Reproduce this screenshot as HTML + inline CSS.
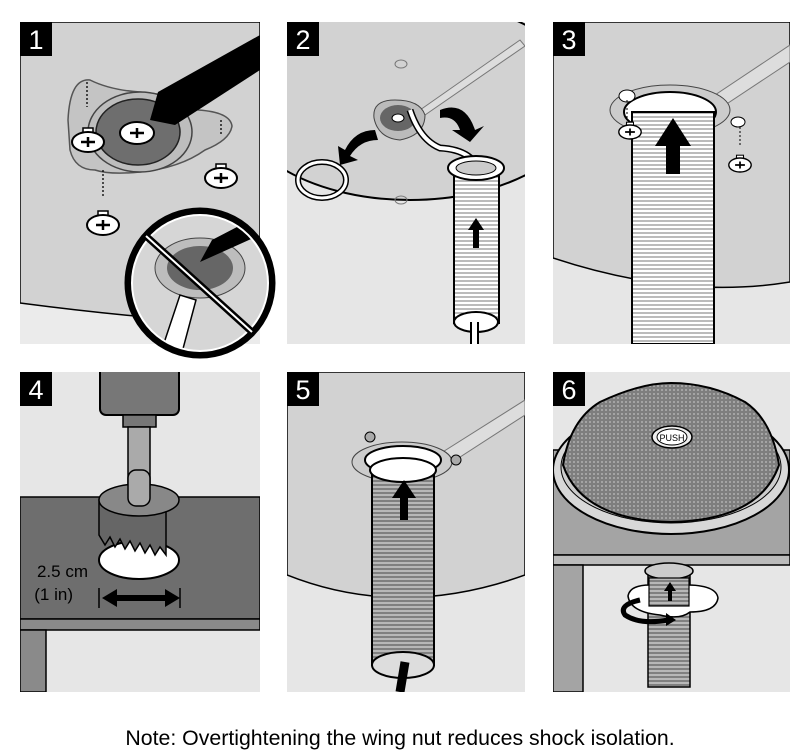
<!DOCTYPE html>
<html><head><meta charset="utf-8"><style>
html,body{margin:0;padding:0;background:#fff;width:800px;height:754px;overflow:hidden}
svg{display:block}
</style></head><body>
<svg width="800" height="754" viewBox="0 0 800 754" xmlns="http://www.w3.org/2000/svg">
<defs>
<pattern id="ribW" width="6" height="4" patternUnits="userSpaceOnUse"><rect width="6" height="4" fill="#fff"/><line x1="0" y1="1" x2="6" y2="1" stroke="#777" stroke-width="1"/></pattern>
<pattern id="ribG" width="6" height="4" patternUnits="userSpaceOnUse"><rect width="6" height="4" fill="#b8b8b8"/><line x1="0" y1="1" x2="6" y2="1" stroke="#5a5a5a" stroke-width="1.2"/></pattern>
<pattern id="mesh" width="4" height="4" patternUnits="userSpaceOnUse"><rect width="4" height="4" fill="#7e7e7e"/><circle cx="2" cy="2" r="0.9" fill="#c0c0c0"/></pattern>
<clipPath id="c1"><rect x="20" y="22" width="240" height="322"/></clipPath>
<clipPath id="c2"><rect x="287" y="22" width="238" height="322"/></clipPath>
<clipPath id="c3"><rect x="553" y="22" width="237" height="322"/></clipPath>
<clipPath id="c4"><rect x="20" y="372" width="240" height="320"/></clipPath>
<clipPath id="c5"><rect x="287" y="372" width="238" height="320"/></clipPath>
<clipPath id="c6"><rect x="553" y="372" width="237" height="320"/></clipPath>
<clipPath id="pc"><circle cx="200" cy="283" r="72"/></clipPath>
<g id="screw"><rect x="-5" y="-14" width="10" height="10" fill="#fff" stroke="#000" stroke-width="1.5"/><ellipse cx="0" cy="0" rx="16" ry="10" fill="#fff" stroke="#000" stroke-width="2"/><path d="M-7 0h14M0-5v10" stroke="#000" stroke-width="2.5"/></g>
</defs>

<!-- Panel 1 -->
<g clip-path="url(#c1)">
<rect x="20" y="22" width="240" height="322" fill="#ebebeb"/>
<path d="M20 22H260V325Q150 320 20 303Z" fill="#d2d2d2" stroke="#000" stroke-width="1.5"/>
<path d="M68 120Q70 78 90 80Q110 90 140 92Q180 95 198 110Q230 112 232 126Q230 140 205 150Q180 168 140 172Q110 175 95 170Q75 170 70 150Z" fill="#c4c4c4" stroke="#555" stroke-width="1.5"/>
<ellipse cx="140" cy="132" rx="52" ry="40" fill="#bdbdbd" stroke="#444" stroke-width="1.5"/>
<ellipse cx="138" cy="132" rx="42" ry="33" fill="#6e6e6e" stroke="#222" stroke-width="1.5"/>
<ellipse cx="137" cy="133" rx="17" ry="11" fill="#fff" stroke="#000" stroke-width="2"/>
<path d="M130 133h14M137 128v10" stroke="#000" stroke-width="2.5"/>
<path d="M150 120L158 92L260 35V70L175 125Z" fill="#000"/>
<path d="M87 82v25M221 120v14M103 170v28" stroke="#000" stroke-width="1.3" stroke-dasharray="2,2"/>
<use href="#screw" x="88" y="142"/>
<use href="#screw" x="221" y="178"/>
<use href="#screw" x="103" y="225"/>
</g>
<circle cx="200" cy="283" r="72" fill="#d6d6d6"/>
<g clip-path="url(#pc)">
<ellipse cx="200" cy="268" rx="45" ry="30" fill="#bdbdbd" stroke="#444"/>
<ellipse cx="200" cy="268" rx="33" ry="22" fill="#666"/>
<path d="M200 262L212 240L260 215V235Z" fill="#000"/>
<path d="M160 355L180 295L196 300L180 360Z" fill="#fff" stroke="#000" stroke-width="1.5"/>
</g>
<circle cx="200" cy="283" r="72" fill="none" stroke="#000" stroke-width="7"/>
<circle cx="200" cy="283" r="68" fill="none" stroke="#fff" stroke-width="2"/>
<line x1="146" y1="236" x2="252" y2="332" stroke="#000" stroke-width="7"/>
<line x1="146" y1="236" x2="252" y2="332" stroke="#fff" stroke-width="2"/>
<rect x="20" y="22" width="32" height="34" fill="#000"/>
<text x="36" y="49" font-family="Liberation Sans, sans-serif" font-size="27" fill="#fff" text-anchor="middle">1</text>

<!-- Panel 2 -->
<g clip-path="url(#c2)">
<rect x="287" y="22" width="238" height="322" fill="#e6e6e6"/>
<ellipse cx="410" cy="100" rx="175" ry="100" fill="#d2d2d2" stroke="#000" stroke-width="2"/>
<ellipse cx="401" cy="64" rx="6" ry="4" fill="none" stroke="#777"/>
<ellipse cx="401" cy="200" rx="6" ry="4" fill="none" stroke="#777"/>
<path d="M420 110L520 40L525 46L425 115Z" fill="#ddd" stroke="#777"/>
<path d="M374 118Q372 100 395 100Q420 100 425 115Q425 135 400 140Q378 138 374 118Z" fill="#bbb" stroke="#444"/>
<ellipse cx="398" cy="118" rx="18" ry="13" fill="#666"/>
<ellipse cx="398" cy="118" rx="6" ry="4" fill="#fff" stroke="#000"/>
<path d="M410 110Q420 140 440 148Q475 150 480 175" fill="none" stroke="#000" stroke-width="7"/>
<path d="M410 110Q420 140 440 148Q475 150 480 175" fill="none" stroke="#fff" stroke-width="4"/>
<path d="M440 110Q465 100 475 130L484 126L470 142L452 130L460 130Q455 115 440 118Z" fill="#000"/>
<path d="M375 130Q355 130 345 150L338 146L340 165L358 160L350 156Q360 140 378 140Z" fill="#000"/>
<ellipse cx="322" cy="180" rx="24" ry="18" fill="none" stroke="#000" stroke-width="6"/>
<ellipse cx="322" cy="180" rx="24" ry="18" fill="none" stroke="#fff" stroke-width="3"/>
<rect x="454" y="168" width="45" height="155" fill="url(#ribW)" stroke="#000" stroke-width="2"/>
<ellipse cx="476" cy="168" rx="28" ry="12" fill="#fff" stroke="#000" stroke-width="2"/>
<ellipse cx="476" cy="168" rx="20" ry="7" fill="#ccc" stroke="#000"/>
<ellipse cx="476" cy="322" rx="22" ry="10" fill="#fff" stroke="#000" stroke-width="2"/>
<path d="M471 322V344M478 322V344" stroke="#000" stroke-width="2"/>
<rect x="472" y="322" width="5" height="22" fill="#fff"/>
<path d="M476 218l-8 12h5v18h6v-18h5z" fill="#000"/>
</g>
<rect x="287" y="22" width="32" height="34" fill="#000"/>
<text x="303" y="49" font-family="Liberation Sans, sans-serif" font-size="27" fill="#fff" text-anchor="middle">2</text>

<!-- Panel 3 -->
<g clip-path="url(#c3)">
<rect x="553" y="22" width="237" height="322" fill="#e6e6e6"/>
<path d="M553 22H790V282Q680 300 553 258Z" fill="#d2d2d2" stroke="#000" stroke-width="1.5"/>
<path d="M700 105L790 45V62L710 115Z" fill="#ddd" stroke="#777"/>
<ellipse cx="670" cy="110" rx="60" ry="25" fill="#ccc" stroke="#444"/>
<ellipse cx="670" cy="112" rx="46" ry="20" fill="#fff" stroke="#000" stroke-width="2"/>
<rect x="632" y="112" width="82" height="232" fill="url(#ribW)" stroke="#000" stroke-width="2"/>
<path d="M673 118l-18 28h11v28h14v-28h11z" fill="#000"/>
<ellipse cx="627" cy="96" rx="8" ry="6" fill="#fff" stroke="#000"/>
<use href="#screw" x="630" y="132" transform="translate(630 132) scale(0.7) translate(-630 -132)"/>
<ellipse cx="738" cy="122" rx="7" ry="5" fill="#fff" stroke="#000"/>
<path d="M627 100v20M740 127v20" stroke="#000" stroke-dasharray="2,2"/>
<use href="#screw" x="740" y="165" transform="translate(740 165) scale(0.7) translate(-740 -165)"/>
</g>
<rect x="553" y="22" width="32" height="34" fill="#000"/>
<text x="569" y="49" font-family="Liberation Sans, sans-serif" font-size="27" fill="#fff" text-anchor="middle">3</text>

<!-- Panel 4 -->
<g clip-path="url(#c4)">
<rect x="20" y="372" width="240" height="320" fill="#e6e6e6"/>
<rect x="20" y="497" width="240" height="122" fill="#6e6e6e" stroke="#000" stroke-width="1.5"/>
<rect x="20" y="619" width="240" height="11" fill="#8a8a8a" stroke="#000" stroke-width="1.5"/>
<rect x="20" y="630" width="26" height="62" fill="#8a8a8a" stroke="#000" stroke-width="1.5"/>
<rect x="100" y="365" width="79" height="50" rx="6" fill="#777" stroke="#000" stroke-width="2"/>
<rect x="123" y="415" width="33" height="12" fill="#777" stroke="#000" stroke-width="1.5"/>
<rect x="128" y="427" width="22" height="80" fill="#aaa" stroke="#000" stroke-width="1.5"/>
<ellipse cx="139" cy="560" rx="40" ry="19" fill="#fff" stroke="#000" stroke-width="2"/>
<path d="M99 500v35l6 10l5-8l5 10l5-8l5 10l5-8l5 10l5-8l5 10l5-8l5 10l5-8l6 8V500Z" fill="#666" stroke="#000" stroke-width="1.5"/>
<ellipse cx="139" cy="500" rx="40" ry="16" fill="#888" stroke="#000" stroke-width="1.5"/>
<rect x="128" y="470" width="22" height="36" rx="8" fill="#aaa" stroke="#000" stroke-width="1.5"/>
<path d="M99 588v20M180 588v20" stroke="#000" stroke-width="1.5"/>
<path d="M102 598l15-9v6h48v-6l15 9l-15 9v-6h-48v6z" fill="#000"/>
<text x="88" y="577" font-family="Liberation Sans, sans-serif" font-size="17" fill="#000" text-anchor="end">2.5 cm</text>
<text x="73" y="600" font-family="Liberation Sans, sans-serif" font-size="17" fill="#000" text-anchor="end">(1 in)</text>
</g>
<rect x="20" y="372" width="32" height="34" fill="#000"/>
<text x="36" y="399" font-family="Liberation Sans, sans-serif" font-size="27" fill="#fff" text-anchor="middle">4</text>

<!-- Panel 5 -->
<g clip-path="url(#c5)">
<rect x="287" y="372" width="238" height="320" fill="#e6e6e6"/>
<path d="M287 372H525V575Q400 620 287 575Z" fill="#d2d2d2" stroke="#000" stroke-width="1.5"/>
<path d="M430 460L525 400V415L440 470Z" fill="#ddd" stroke="#777"/>
<ellipse cx="402" cy="462" rx="50" ry="20" fill="#ccc" stroke="#444"/>
<circle cx="370" cy="437" r="5" fill="#aaa" stroke="#000"/>
<circle cx="456" cy="460" r="5" fill="#aaa" stroke="#000"/>
<ellipse cx="403" cy="460" rx="38" ry="14" fill="#fff" stroke="#000" stroke-width="2"/>
<rect x="372" y="470" width="62" height="195" fill="url(#ribG)" stroke="#000" stroke-width="2"/>
<ellipse cx="403" cy="470" rx="33" ry="12" fill="#fff" stroke="#000" stroke-width="2"/>
<ellipse cx="403" cy="665" rx="31" ry="13" fill="#ddd" stroke="#000" stroke-width="2"/>
<path d="M405 662L400 692" stroke="#000" stroke-width="9"/>
<path d="M404 480l-12 18h8v22h8v-22h8z" fill="#000"/>
</g>
<rect x="287" y="372" width="32" height="34" fill="#000"/>
<text x="303" y="399" font-family="Liberation Sans, sans-serif" font-size="27" fill="#fff" text-anchor="middle">5</text>

<!-- Panel 6 -->
<g clip-path="url(#c6)">
<rect x="553" y="372" width="237" height="320" fill="#e6e6e6"/>
<rect x="553" y="450" width="237" height="105" fill="#a4a4a4" stroke="#000" stroke-width="1.5"/>
<rect x="553" y="555" width="237" height="10" fill="#bbb" stroke="#000" stroke-width="1.5"/>
<rect x="553" y="565" width="30" height="127" fill="#a4a4a4" stroke="#000" stroke-width="1.5"/>
<ellipse cx="671" cy="470" rx="118" ry="64" fill="#d8d8d8" stroke="#000" stroke-width="2"/>
<ellipse cx="671" cy="467" rx="110" ry="56" fill="#ccc" stroke="#000" stroke-width="1"/>
<path d="M563 465Q570 420 600 402Q640 383 671 383Q710 383 745 402Q772 420 779 465Q760 520 671 522Q582 520 563 465Z" fill="url(#mesh)" stroke="#000" stroke-width="2"/>
<ellipse cx="672" cy="437" rx="20" ry="11" fill="#eee" stroke="#000" stroke-width="1.5"/>
<ellipse cx="672" cy="437" rx="15" ry="8" fill="#fff" stroke="#000" stroke-width="1"/>
<text x="672" y="441" font-family="Liberation Sans, sans-serif" font-size="9" fill="#000" text-anchor="middle">PUSH</text>
<rect x="648" y="575" width="42" height="112" fill="url(#ribG)" stroke="#000" stroke-width="1.5"/>
<ellipse cx="669" cy="571" rx="24" ry="8" fill="#ccc" stroke="#000" stroke-width="1.5"/>
<path d="M628 596Q630 585 650 585Q660 578 680 585Q716 584 718 598Q716 612 690 612Q680 620 660 615Q630 612 628 596Z" fill="#fff" stroke="#000" stroke-width="1.5"/>
<rect x="649" y="578" width="40" height="28" fill="url(#ribG)" stroke="#000" stroke-width="1.2"/>
<path d="M670 582l-6 9h4v10h4v-10h4z" fill="#000"/>
<path d="M640 600Q618 605 625 615Q640 625 668 620" fill="none" stroke="#000" stroke-width="5"/>
<path d="M666 613l10 7l-10 6z" fill="#000"/>
</g>
<rect x="553" y="372" width="32" height="34" fill="#000"/>
<text x="569" y="399" font-family="Liberation Sans, sans-serif" font-size="27" fill="#fff" text-anchor="middle">6</text>

<text x="400" y="745" font-family="Liberation Sans, sans-serif" font-size="21.3" fill="#000" text-anchor="middle">Note: Overtightening the wing nut reduces shock isolation.</text>
</svg>
</body></html>
